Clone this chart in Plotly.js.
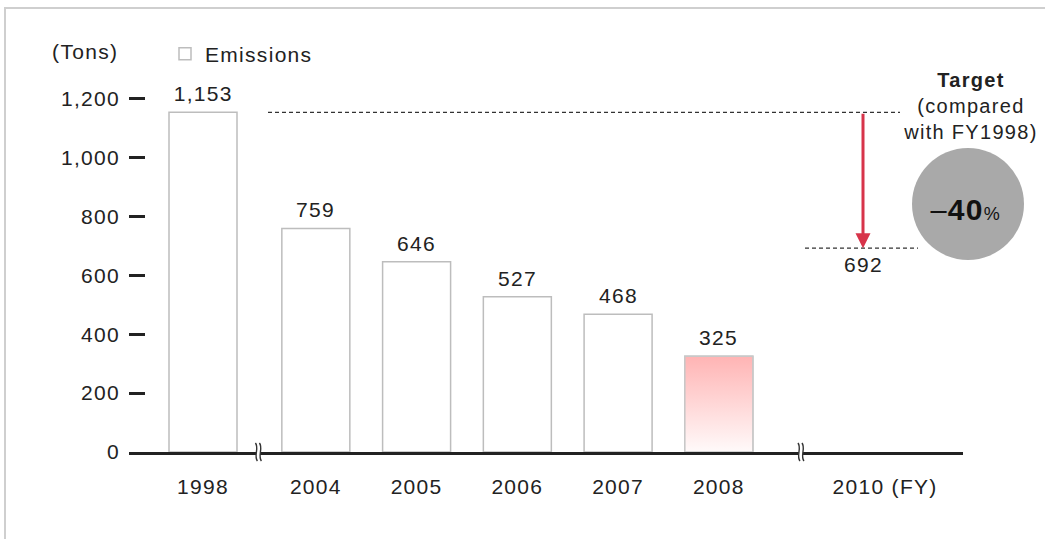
<!DOCTYPE html>
<html>
<head>
<meta charset="utf-8">
<script src="https://cdn.plot.ly/plotly-3.0.1.min.js"></script>
<style>
  html, body { margin: 0; padding: 0; background: #fff; }
  #chart { width: 1045px; height: 539px; }
  #chart text { letter-spacing: 1.3px; }
</style>
</head>
<body>
<div id="chart"></div>
<script>
// ---- data ----
const years = ['1998', '2004', '2005', '2006', '2007', '2008'];
const emissions = [1153, 759, 646, 527, 468, 325];
const targetYear = '2010';
const targetValue = 692;
const reductionText = '–40';
const yTickValues = [0, 200, 400, 600, 800, 1000, 1200];
const xTickLabels = ['1998', '2004', '2005', '2006', '2007', '2008', '2010 (FY)'];
const unitLabel = '(Tons)';
const seriesName = 'Emissions';

// ---- layout helpers (pixels of the 1045x539 canvas) ----
const L = 129, R = 963, T = 40, B = 452;
const PX = p => (p - L) / (R - L);
const PY = p => (B - p) / (B - T);
const unitPx = 100.75, firstPx = 203;          // x axis: one slot = 100.75 px
const XD = p => (p - firstPx) / unitPx;         // pixel -> x data
const yMax = (B - T) / 0.2946;

const breakGap = 0.12;
const pos = years.map((y, i) => i === 0 ? 0 : i + breakGap);
const targetPos = pos[pos.length - 1] + 1.65;
const tickPos = pos.concat([targetPos]);
const barWidth = 0.675;
const fmt = v => v.toLocaleString('en-US');

const txt = '#222';
const fontFam = '"Liberation Sans", Arial, Helvetica, sans-serif';

// bars
const barTrace = {
  type: 'bar', x: pos, y: emissions, width: barWidth, name: seriesName,
  marker: { color: '#ffffff', line: { color: '#bdbdbd', width: 1.5 } },
  hoverinfo: 'skip', showlegend: true
};

// gradient overlay on the latest year
const li = emissions.length - 1, hw = barWidth / 2;
const gradTrace = {
  type: 'scatter', mode: 'lines', showlegend: false, hoverinfo: 'skip',
  x: [pos[li] - hw, pos[li] - hw, pos[li] + hw, pos[li] + hw, pos[li] - hw],
  y: [0, emissions[li], emissions[li], 0, 0],
  fill: 'toself',
  fillgradient: { type: 'vertical', start: 0, stop: emissions[li],
                  colorscale: [[0, '#fffafa'], [1, '#ffb4b4']] },
  line: { color: '#c8c8c8', width: 1.5 }
};

// value labels
const annotations = emissions.map((v, i) => ({
  x: pos[i], y: v, xref: 'x', yref: 'y', text: fmt(v), showarrow: false,
  xanchor: 'center', yanchor: 'bottom', yshift: 5, font: { size: 21, color: txt, family: fontFam }
}));

const arrowX = XD(863);
annotations.push({
  x: arrowX, y: targetValue, xref: 'x', yref: 'y',
  ax: arrowX, ay: emissions[0], axref: 'x', ayref: 'y',
  showarrow: true, arrowhead: 2, arrowsize: 1, arrowwidth: 3, arrowcolor: '#d7344a', text: ''
});
annotations.push({
  x: arrowX, y: targetValue, xref: 'x', yref: 'y', text: fmt(targetValue),
  showarrow: false, xanchor: 'center', yanchor: 'top', yshift: -3,
  font: { size: 21, color: txt, family: fontFam }
});
annotations.push({
  x: PX(85), y: PY(52), xref: 'paper', yref: 'paper', text: unitLabel,
  showarrow: false, xanchor: 'center', yanchor: 'middle',
  font: { size: 21, color: txt, family: fontFam }
});
annotations.push({
  x: PX(970), y: PY(106), xref: 'paper', yref: 'paper',
  text: '<b>Target</b><br>(compared<br>with FY1998)', align: 'center',
  showarrow: false, xanchor: 'center', yanchor: 'middle',
  font: { size: 20, color: txt, family: fontFam }
});
annotations.push({
  x: PX(966), y: PY(209), xref: 'paper', yref: 'paper',
  text: '<span style="font-size:29px">' + reductionText.charAt(0) + '</span>' +
        '<span style="font-size:30px;font-weight:bold">' + reductionText.slice(1) + '</span>' +
        '<span style="font-size:18px">%</span>',
  showarrow: false, xanchor: 'center', yanchor: 'middle',
  font: { size: 30, color: '#111', family: fontFam }
});

// shapes
const breakFill = 'M -4,9 C 0,4 -6,-4 -2,-9 L 2,-9 C -2,-4 4,4 0,9 Z';
const breakLine = 'M -4,9 C 0,4 -6,-4 -2,-9 M 0,9 C 4,4 -2,-4 2,-9';
const breaks = [(pos[0] + pos[1]) / 2, (pos[li] + targetPos) / 2];
const shapes = [
  { type: 'rect', xref: 'paper', yref: 'paper', x0: PX(5), x1: PX(1060), y0: PY(560), y1: PY(8),
    line: { color: '#cfcfcf', width: 2 }, fillcolor: 'rgba(0,0,0,0)', layer: 'below' },
  { type: 'line', xref: 'x', yref: 'y', x0: XD(268), x1: XD(900), y0: emissions[0], y1: emissions[0],
    line: { color: '#333', width: 1.2, dash: '4px,3px' } },
  { type: 'line', xref: 'x', yref: 'y', x0: XD(805), x1: XD(918), y0: targetValue, y1: targetValue,
    line: { color: '#333', width: 1.2, dash: '4px,3px' } },
  { type: 'circle', xref: 'paper', yref: 'paper', x0: PX(912), x1: PX(1024), y0: PY(260), y1: PY(148),
    fillcolor: '#a9a9a9', line: { width: 0 }, layer: 'below' }
];
breaks.forEach(b => {
  shapes.push({ type: 'path', xref: 'x', yref: 'paper', xsizemode: 'pixel', ysizemode: 'pixel',
    xanchor: b, yanchor: 0, path: breakFill, fillcolor: '#ffffff', line: { width: 0 } });
  shapes.push({ type: 'path', xref: 'x', yref: 'paper', xsizemode: 'pixel', ysizemode: 'pixel',
    xanchor: b, yanchor: 0, path: breakLine, fillcolor: 'rgba(0,0,0,0)', line: { color: '#333', width: 1.4 } });
});

const layout = {
  width: 1045, height: 539,
  margin: { l: L, r: 1045 - R, t: T, b: 539 - B, pad: 0 },
  paper_bgcolor: '#ffffff', plot_bgcolor: 'rgba(0,0,0,0)',
  font: { family: fontFam, size: 21, color: txt },
  showlegend: true,
  legend: { x: PX(165), y: PY(54), xanchor: 'left', yanchor: 'middle', orientation: 'h',
            entrywidth: 180, entrywidthmode: 'pixels',
            bgcolor: 'rgba(0,0,0,0)', font: { size: 21, color: txt, family: fontFam } },
  xaxis: {
    range: [XD(L), XD(R)], showgrid: false, zeroline: false,
    showline: true, linecolor: '#222', linewidth: 3,
    tickmode: 'array', tickvals: tickPos, ticktext: xTickLabels, ticks: '',
    ticklabelstandoff: 14, tickfont: { size: 21, color: txt, family: fontFam }, fixedrange: true
  },
  yaxis: {
    range: [0, yMax], showgrid: false, zeroline: false, showline: false,
    tickmode: 'array', tickvals: yTickValues, ticktext: yTickValues.map(fmt),
    ticks: 'inside', ticklen: 16, tickwidth: 3, tickcolor: '#222',
    ticklabelstandoff: 8, tickfont: { size: 21, color: txt, family: fontFam }, fixedrange: true
  },
  bargap: 0,
  annotations: annotations,
  shapes: shapes
};

Plotly.newPlot('chart', [barTrace, gradTrace], layout, { staticPlot: true, displayModeBar: false });
</script>
</body>
</html>
